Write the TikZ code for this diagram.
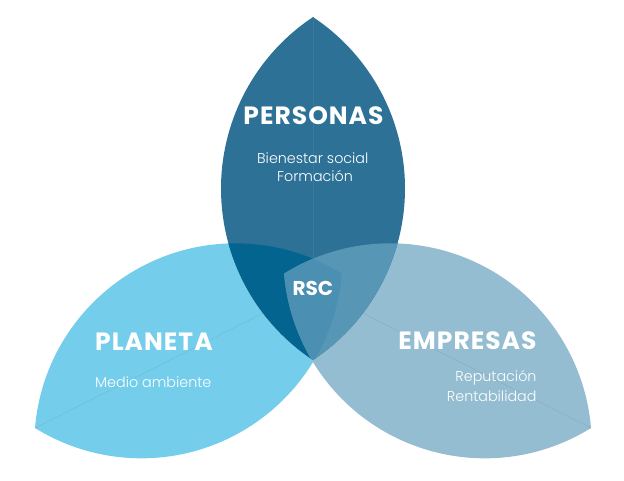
\documentclass[tikz,border=0pt]{standalone}
\usepackage{fontspec}
\setmainfont{Poppins}
\newfontfamily\headfont[LetterSpace=4]{Poppins}
\newfontfamily\subfont[UprightFont=* Light]{Poppins}
\definecolor{cTop}{HTML}{2E7196}
\definecolor{cLeft}{HTML}{74CEEB}
\definecolor{cRight}{HTML}{94BDD1}
\definecolor{cTL}{HTML}{03648F}
\definecolor{cTR}{HTML}{5796B5}
\definecolor{cAll}{HTML}{4B90B2}
% top leaf: half length 171.5, half width 92
\newcommand\leafpathT{(0,0) arc[start angle=146.43,end angle=33.57,radius=205.8pt] arc[start angle=-33.57,end angle=-146.43,radius=205.8pt] -- cycle}
% side leaves: half length 171.8, half width 96.3
\newcommand\leafpathS{(0,0) arc[start angle=148.54,end angle=31.46,radius=201.4pt] arc[start angle=-31.46,end angle=-148.54,radius=201.4pt] -- cycle}
\begin{document}
\begin{tikzpicture}[x=1pt,y=1pt,
  leafT/.style={shift={(313,120)},rotate=90},
  leafL/.style={shift={(35,52)},rotate=26.7},
  leafR/.style={shift={(591,52)},rotate=153.3},
  seam/.style={line width=0.7pt},
  head/.style={text=white,inner sep=0pt,font=\fontsize{25}{25}\headfont\bfseries},
  rsc/.style={text=white,inner sep=0pt,font=\fontsize{20}{20}\selectfont\bfseries},
  sub/.style={text=white,inner sep=0pt,font=\fontsize{14.3}{14.3}\subfont}]
\useasboundingbox (0,0) rectangle (624,480);
% single leaves
\fill[cLeft,leafL] \leafpathS;
\draw[seam,cLeft!94!black,leafL] (0,0) -- (343.6,0);
\fill[cRight,leafR] \leafpathS;
\draw[seam,cRight!94!black,leafR] (0,0) -- (343.6,0);
\fill[cTop,leafT] \leafpathT;
\draw[seam,cTop!94!white,leafT] (0,0) -- (343,0);
% overlaps
\begin{scope}
  \clip[leafT] \leafpathT;
  \fill[cTL,leafL] \leafpathS;
  \fill[cTR,leafR] \leafpathS;
  \clip[leafL] \leafpathS;
  \fill[cAll,leafR] \leafpathS;
\end{scope}
% texts
\node[head,anchor=base] (pers) at (313.5,355) {PERSONAS};
\node[sub,anchor=base] (bien) at (312.8,316) {Bienestar social};
\node[sub,anchor=base] (form) at (315,298.3) {Formación};
\node[rsc,anchor=base] (rsc) at (312.8,185) {RSC};
\node[head,anchor=base west] (plan) at (95,130) {PLANETA};
\node[sub,anchor=base west] (medio) at (95,93) {Medio ambiente};
\node[head,anchor=base east] (emp) at (536.7,130.5) {EMPRESAS};
\node[sub,anchor=base east] (rep) at (536.7,98.3) {Reputación};
\node[sub,anchor=base east] (rent) at (536.7,78.3) {Rentabilidad};
\end{tikzpicture}
\end{document}
